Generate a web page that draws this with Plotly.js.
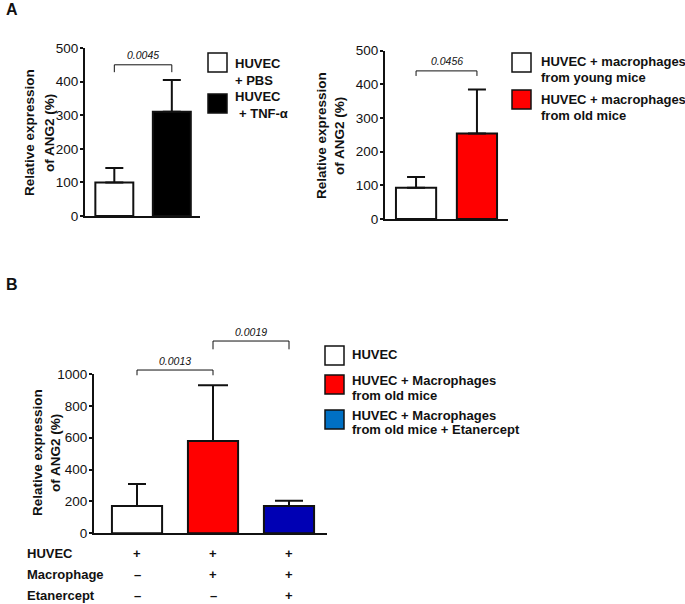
<!DOCTYPE html>
<html>
<head>
<meta charset="utf-8">
<script src="https://cdn.plot.ly/plotly-3.0.1.min.js"></script>
<style>html,body{margin:0;padding:0;background:#fff;}#chart{width:685px;height:604px;}</style>
</head>
<body>
<div id="chart"></div>
<script>
// ---------- DATA ----------
// Panel A (left)
const aLeftGroups = ['HUVEC + PBS', 'HUVEC + TNF-α'];
const aLeftMeans = [100, 310];
const aLeftErr = [43, 95];
const aLeftP = ['0.0045'];
const aLeftLegend = [['HUVEC', '+ PBS'], ['HUVEC', '+ TNF-α']];

// Panel A (right)
const aRightGroups = ['young', 'old'];
const aRightMeans = [93, 254];
const aRightErr = [32, 131];
const aRightP = ['0.0456'];
const aRightLegend = [['HUVEC + macrophages', 'from young mice'], ['HUVEC + macrophages', 'from old mice']];

// Panel B
const bGroups = ['HUVEC', 'HUVEC + Macrophages from old mice', 'HUVEC + Macrophages from old mice + Etanercept'];
const bMeans = [171, 580, 171];
const bErr = [139, 350, 34];
const bP = ['0.0013', '0.0019'];
const bLegend = [['HUVEC'], ['HUVEC + Macrophages', 'from old mice'], ['HUVEC + Macrophages', 'from old mice + Etanercept']];
const tableRows = ['HUVEC', 'Macrophage', 'Etanercept'];
const tableHuvec = ['+', '+', '+'];
const tableMacro = ['–', '+', '+'];
const tableEtan = ['–', '–', '+'];

const yTitle = ['Relative expression', 'of ANG2 (%)'];

// ---------- STYLE / LAYOUT ----------
const W = 685, H = 604;
const px = v => v / W;
const py = v => 1 - v / H;
const FONT = 'Liberation Sans, Arial, sans-serif';
const INK = '#111';

const aLeftColors = ['#ffffff', '#000000'];
const aRightColors = ['#ffffff', '#ff0000'];
const bColors = ['#ffffff', '#ff0000', '#0000b4'];
const bLegendColors = ['#ffffff', '#ff0000', '#0070c4'];

function barTrace(x, y, err, color, xa, ya, capw) {
  return {
    type: 'bar', x: [x], y: [y], xaxis: xa, yaxis: ya, width: [0.66],
    marker: {color: color, line: {color: INK, width: 2}},
    error_y: {type: 'data', array: [err], arrayminus: [0], symmetric: false,
              color: INK, thickness: 2, width: capw},
    showlegend: false, hoverinfo: 'skip'
  };
}

const traces = [];
aLeftMeans.forEach((m, i) => traces.push(barTrace(i, m, aLeftErr[i], aLeftColors[i], 'x', 'y', 9)));
aRightMeans.forEach((m, i) => traces.push(barTrace(i, m, aRightErr[i], aRightColors[i], 'x2', 'y2', 9)));
const bCaps = [9, 15, 14];
bMeans.forEach((m, i) => traces.push(barTrace(i, m, bErr[i], bColors[i], 'x3', 'y3', bCaps[i])));

function yAxis(domain, range, dtick, anchor) {
  return {
    domain: domain, range: range, dtick: dtick, anchor: anchor,
    showline: true, linecolor: INK, linewidth: 2, ticks: 'outside', ticklen: 3,
    tickwidth: 2, tickcolor: INK, showgrid: false, zeroline: false, ticklabelstandoff: -1,
    tickfont: {family: FONT, size: 13.5, color: INK}, fixedrange: true
  };
}
function xAxis(domain, range, anchor) {
  return {
    domain: domain, range: range, anchor: anchor, showline: true, linecolor: INK,
    linewidth: 2, ticks: '', showticklabels: false, showgrid: false, zeroline: false,
    fixedrange: true
  };
}

const axes = {
  xaxis: xAxis([px(85), px(200)], [-0.51, 1.49], 'y'),
  yaxis: yAxis([py(216), py(48)], [0, 500], 100, 'x'),
  xaxis2: xAxis([px(385), px(508)], [-0.51, 1.51], 'y2'),
  yaxis2: yAxis([py(219), py(50.7)], [0, 500], 100, 'x2'),
  xaxis3: xAxis([px(94), px(327)], [-0.566, 2.5], 'y3'),
  yaxis3: yAxis([py(533.3), py(374)], [0, 1000], 200, 'x3')
};
// map a data value on a y axis to paper coordinates (so brackets above the range are not clipped)
function yPaper(axName, v) {
  const a = axes[axName];
  return a.domain[0] + (v - a.range[0]) / (a.range[1] - a.range[0]) * (a.domain[1] - a.domain[0]);
}

const shapes = [];
const annotations = [];

function bracket(xa, yaName, x0, x1, yTop, yBot, label, labelOffset) {
  const t = yPaper(yaName, yTop), b = yPaper(yaName, yBot);
  shapes.push({type: 'path', xref: xa, yref: 'paper',
    path: `M ${x0} ${b} L ${x0} ${t} L ${x1} ${t} L ${x1} ${b}`,
    line: {color: INK, width: 1}});
  annotations.push({xref: xa, yref: 'paper', x: (x0 + x1) / 2, y: t, yshift: labelOffset,
    text: '<i>' + label + '</i>', showarrow: false, yanchor: 'bottom',
    font: {family: FONT, size: 10.5, color: INK}});
}

bracket('x', 'yaxis', 0, 1, 450, 428, aLeftP[0], 2);
bracket('x2', 'yaxis2', 0, 1, 440, 425, aRightP[0], 2);
bracket('x3', 'yaxis3', 0, 1, 1025, 992, bP[0], 1);
bracket('x3', 'yaxis3', 1, 2, 1207, 1155, bP[1], 1);

function legendBlock(x0, boxes, colors, textX, lineGap) {
  boxes.forEach((b, i) => {
    shapes.push({type: 'rect', xref: 'paper', yref: 'paper',
      x0: px(x0), x1: px(x0 + 19), y0: py(b.top + 19), y1: py(b.top),
      fillcolor: colors[i], line: {color: INK, width: 1.5}});
    b.lines.forEach((t, j) => {
      annotations.push({xref: 'paper', yref: 'paper', x: px(textX + (b.indent ? b.indent[j] : 0)),
        y: py(b.textY + j * lineGap), xanchor: 'left', yanchor: 'middle', showarrow: false,
        text: '<b>' + t + '</b>', font: {family: FONT, size: 13, color: INK}});
    });
  });
}

legendBlock(208, [
  {top: 53, lines: aLeftLegend[0], textY: 63, indent: [0, 0]},
  {top: 94, lines: aLeftLegend[1], textY: 97, indent: [0, 4]}
], aLeftColors, 233, 17);

legendBlock(512, [
  {top: 53, lines: aRightLegend[0], textY: 62},
  {top: 90, lines: aRightLegend[1], textY: 100}
], aRightColors, 539, 15.5);

legendBlock(325, [
  {top: 346, lines: bLegend[0], textY: 355},
  {top: 375, lines: bLegend[1], textY: 381},
  {top: 410, lines: bLegend[2], textY: 415.5}
], bLegendColors, 350, 14);

function yTitles(x1, x2, yc) {
  [x1, x2].forEach((x, i) => annotations.push({xref: 'paper', yref: 'paper',
    x: px(x), y: py(yc), textangle: -90, showarrow: false, xanchor: 'center', yanchor: 'middle',
    text: '<b>' + yTitle[i] + '</b>', font: {family: FONT, size: 13.5, color: INK}}));
}
yTitles(30, 50, 133);
yTitles(321, 339, 136);
yTitles(37, 55, 453);

annotations.push({xref: 'paper', yref: 'paper', x: px(4), y: py(10), xanchor: 'left', yanchor: 'middle',
  showarrow: false, text: '<b>A</b>', font: {family: FONT, size: 16, color: INK}});
annotations.push({xref: 'paper', yref: 'paper', x: px(4), y: py(284), xanchor: 'left', yanchor: 'middle',
  showarrow: false, text: '<b>B</b>', font: {family: FONT, size: 16, color: INK}});

const tableVals = [tableHuvec, tableMacro, tableEtan];
const rowY = [553, 574, 595.5];
tableRows.forEach((r, i) => {
  annotations.push({xref: 'paper', yref: 'paper', x: px(25), y: py(rowY[i]), xanchor: 'left',
    yanchor: 'middle', showarrow: false, text: '<b>' + r + '</b>',
    font: {family: FONT, size: 13, color: INK}});
  tableVals[i].forEach((s, j) => annotations.push({xref: 'x3', yref: 'paper', x: j, y: py(rowY[i]),
    xanchor: 'center', yanchor: 'middle', showarrow: false, text: '<b>' + s + '</b>',
    font: {family: FONT, size: 13, color: INK}}));
});

const layout = Object.assign({
  width: W, height: H, margin: {l: 0, r: 0, t: 0, b: 0},
  paper_bgcolor: '#fff', plot_bgcolor: 'rgba(0,0,0,0)', showlegend: false,
  barmode: 'overlay',
  shapes: shapes, annotations: annotations,
  font: {family: FONT, color: INK}
}, axes);

Plotly.newPlot('chart', traces, layout, {staticPlot: true, displayModeBar: false});
</script>
</body>
</html>
